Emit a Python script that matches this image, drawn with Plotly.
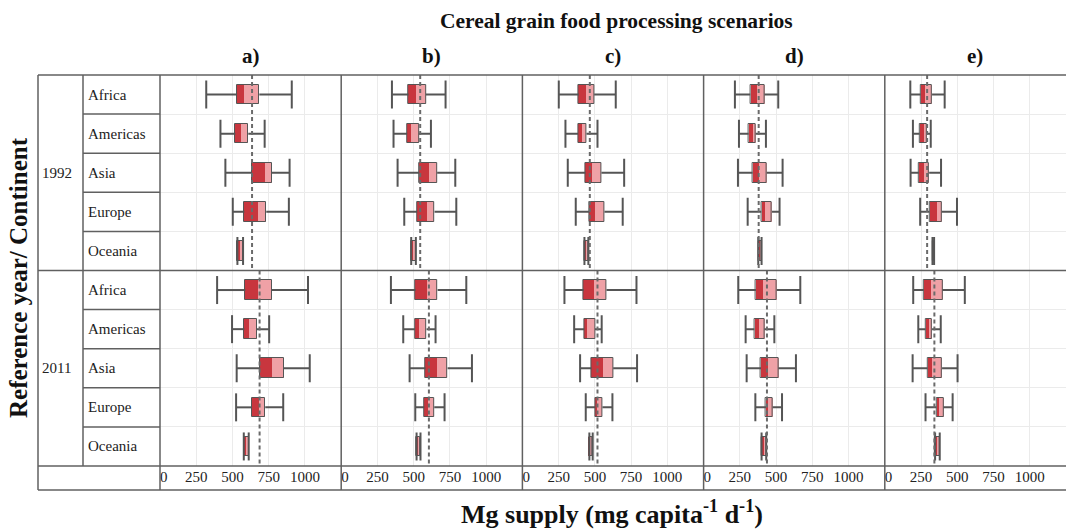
import plotly.graph_objects as go
from plotly.subplots import make_subplots

# ---------------- data ----------------
panels = ["a)", "b)", "c)", "d)", "e)"]
years = ["1992", "2011"]
continents = ["Africa", "Americas", "Asia", "Europe", "Oceania"]
tick_vals = [0, 250, 500, 750, 1000]
tick_text = ["\u00a0\u00a00", "250", "500", "750", "1000"]

# each inner list: 1992 Africa..Oceania, 2011 Africa..Oceania
whisker_min = [
    [319, 417, 451, 502, 534, 394, 497, 529, 525, 578],
    [350, 361, 389, 435, 483, 343, 428, 472, 511, 520],
    [251, 297, 313, 368, 428, 290, 357, 398, 437, 462],
    [216, 244, 237, 304, 377, 239, 290, 297, 357, 400],
    [176, 194, 178, 244, 329, 196, 231, 192, 281, 347],
]
q1 = [
    [532, 520, 635, 582, 534, 589, 582, 691, 635, 578],
    [465, 455, 538, 524, 483, 513, 508, 582, 573, 520],
    [389, 384, 435, 462, 428, 423, 426, 476, 501, 462],
    [322, 311, 338, 398, 377, 361, 350, 396, 430, 400],
    [247, 240, 235, 308, 329, 269, 281, 295, 356, 347],
]
median = [
    [582, 559, 724, 678, 552, 678, 616, 772, 685, 596],
    [518, 485, 605, 593, 499, 591, 536, 662, 603, 536],
    [439, 412, 483, 506, 439, 495, 449, 557, 520, 474],
    [363, 338, 377, 419, 386, 405, 377, 439, 444, 414],
    [279, 269, 269, 358, 333, 320, 301, 324, 372, 361],
]
q3 = [
    [685, 609, 772, 733, 573, 770, 669, 854, 726, 612],
    [584, 536, 662, 644, 515, 665, 589, 734, 642, 547],
    [495, 442, 545, 566, 455, 580, 501, 626, 552, 485],
    [419, 359, 435, 472, 400, 504, 419, 515, 476, 432],
    [326, 290, 306, 393, 340, 397, 326, 395, 404, 379],
]
whisker_max = [
    [909, 722, 894, 889, 573, 1021, 753, 1033, 850, 612],
    [720, 619, 787, 794, 515, 863, 651, 902, 713, 547],
    [644, 518, 702, 692, 455, 787, 547, 791, 621, 485],
    [515, 430, 545, 524, 400, 667, 488, 637, 541, 432],
    [413, 317, 388, 498, 340, 552, 386, 502, 468, 379],
]
# reference (dashed) line per panel: [1992, 2011]
ref_mean = [
    [635, 687],
    [545, 605],
    [465, 518],
    [380, 437],
    [292, 342],
]

# ---------------- style ----------------
FONT = "Liberation Serif"
DARK = "#C8363E"
PINK = "#EFA1A6"
GREY = "#555555"
LINEC = "#606060"

W, H = 1066, 529
ML, MR, MT, MB = 160, 0, 75, 63
PW = W - ML - MR
PH = H - MT - MB


def px_x(X):
    return (X - ML) / PW


def px_y(Y):
    return (H - MB - Y) / PH


fig = make_subplots(rows=1, cols=5, shared_yaxes=True, horizontal_spacing=0)

rows = list(range(10))
for p in range(5):
    col = p + 1
    lo_len = [m - a for a, m in zip(q1[p], median[p])]
    hi_len = [b - m for m, b in zip(median[p], q3[p])]
    box_len = [b - a for a, b in zip(q1[p], q3[p])]
    fig.add_trace(go.Bar(orientation="h", y=rows, x=lo_len, base=q1[p], width=0.5,
                         marker=dict(color=DARK, line=dict(width=0)),
                         showlegend=False, hoverinfo="skip"), row=1, col=col)
    fig.add_trace(go.Bar(orientation="h", y=rows, x=hi_len, base=median[p], width=0.5,
                         marker=dict(color=PINK, line=dict(width=0)),
                         showlegend=False, hoverinfo="skip"), row=1, col=col)
    fig.add_trace(go.Bar(orientation="h", y=rows, x=box_len, base=q1[p], width=0.5,
                         marker=dict(color="rgba(0,0,0,0)", line=dict(width=1, color=GREY)),
                         showlegend=False, hoverinfo="skip"), row=1, col=col)
    # whiskers
    wx, wy = [], []
    for r in rows:
        wx += [whisker_min[p][r], q1[p][r], None, q3[p][r], whisker_max[p][r], None]
        wy += [r, r, None, r, r, None]
    fig.add_trace(go.Scatter(x=wx, y=wy, mode="lines", line=dict(color=GREY, width=2),
                             showlegend=False, hoverinfo="skip"), row=1, col=col)
    # caps
    fig.add_trace(go.Scatter(x=whisker_min[p] + whisker_max[p], y=rows + rows, mode="markers",
                             marker=dict(symbol="line-ns", size=20,
                                         line=dict(width=2, color=GREY)),
                             showlegend=False, hoverinfo="skip"), row=1, col=col)
    # reference dashed lines
    m92, m11 = ref_mean[p]
    fig.add_trace(go.Scatter(x=[m92, m92, None, m11, m11], y=[-0.5, 4.5, None, 4.5, 9.5],
                             mode="lines", line=dict(color="#6a6a6a", width=2, dash="4px,3px"),
                             showlegend=False, hoverinfo="skip"), row=1, col=col)

fig.update_xaxes(range=[0, 1250], tickvals=tick_vals, ticktext=tick_text,
                 showgrid=True, gridcolor="#ebebeb", gridwidth=1, zeroline=False,
                 ticks="", showline=False, fixedrange=True,
                 tickfont=dict(family=FONT, size=15, color="#222"))
fig.update_yaxes(range=[9.5, -0.5], tickvals=[0.5, 1.5, 2.5, 3.5, 5.5, 6.5, 7.5, 8.5],
                 showticklabels=False, showgrid=True, gridcolor="#ebebeb", gridwidth=1,
                 zeroline=False, ticks="", showline=False, fixedrange=True)

shapes = []


def hline(Y, X0, X1, w=1.5):
    shapes.append(dict(type="line", xref="paper", yref="paper", x0=px_x(X0), x1=px_x(X1),
                       y0=px_y(Y), y1=px_y(Y), line=dict(color=LINEC, width=w)))


def vline(X, Y0, Y1, w=1.5):
    shapes.append(dict(type="line", xref="paper", yref="paper", x0=px_x(X), x1=px_x(X),
                       y0=px_y(Y0), y1=px_y(Y1), line=dict(color=LINEC, width=w)))


row_h = PH / 10
top = MT
bot = H - MB
hline(top, 38, W)
hline(top + 5 * row_h, 38, W)
hline(bot, 38, W)
hline(bot + 24, 38, W)
for k in range(1, 10):
    if k != 5:
        hline(top + k * row_h, 83, ML)
vline(38, top, bot + 24)
vline(83, top, bot)
vline(ML, top, bot + 24)
for k in range(1, 5):
    vline(ML + k * PW / 5, top, bot + 24)

annotations = []
annotations.append(dict(text="<b>Cereal grain food processing scenarios</b>", xref="paper", yref="paper",
                        x=px_x(616), y=px_y(21), xanchor="center", yanchor="middle", showarrow=False,
                        font=dict(family=FONT, size=21.5, color="#111")))
for p, lab in enumerate(panels):
    annotations.append(dict(text="<b>" + lab + "</b>", xref="paper", yref="paper",
                            x=(p + 0.5) / 5, y=px_y(56), xanchor="center", yanchor="middle",
                            showarrow=False,
                            font=dict(family=FONT, size=21, color="#111")))
annotations.append(dict(text="<b>Reference year/ Continent</b>", xref="paper", yref="paper",
                        x=px_x(18), y=px_y(278), xanchor="center", yanchor="middle",
                        showarrow=False, textangle=-90,
                        font=dict(family=FONT, size=25, color="#111")))
annotations.append(dict(text="<b>Mg supply (mg capita<sup>-1</sup> d<sup>-1</sup>)</b>",
                        xref="paper", yref="paper", x=px_x(612), y=px_y(512),
                        xanchor="center", yanchor="middle", showarrow=False,
                        font=dict(family=FONT, size=26, color="#111")))
for i, yr in enumerate(years):
    annotations.append(dict(text=yr, xref="paper", yref="y", x=px_x(40), y=2 + 5 * i,
                            xanchor="left", yanchor="middle", showarrow=False,
                            font=dict(family=FONT, size=15, color="#222")))
    for j, c in enumerate(continents):
        annotations.append(dict(text=c, xref="paper", yref="y", x=px_x(86), y=5 * i + j,
                                xanchor="left", yanchor="middle", showarrow=False,
                                font=dict(family=FONT, size=15, color="#222")))

fig.update_layout(width=W, height=H, margin=dict(l=ML, r=MR, t=MT, b=MB),
                  barmode="overlay", bargap=0, plot_bgcolor="white", paper_bgcolor="white",
                  shapes=shapes, annotations=annotations, showlegend=False,
                  font=dict(family=FONT))

fig.write_html("out.html", config={"displayModeBar": False},
               post_script="document.body.style.margin='0px';document.body.style.overflow='hidden';")
